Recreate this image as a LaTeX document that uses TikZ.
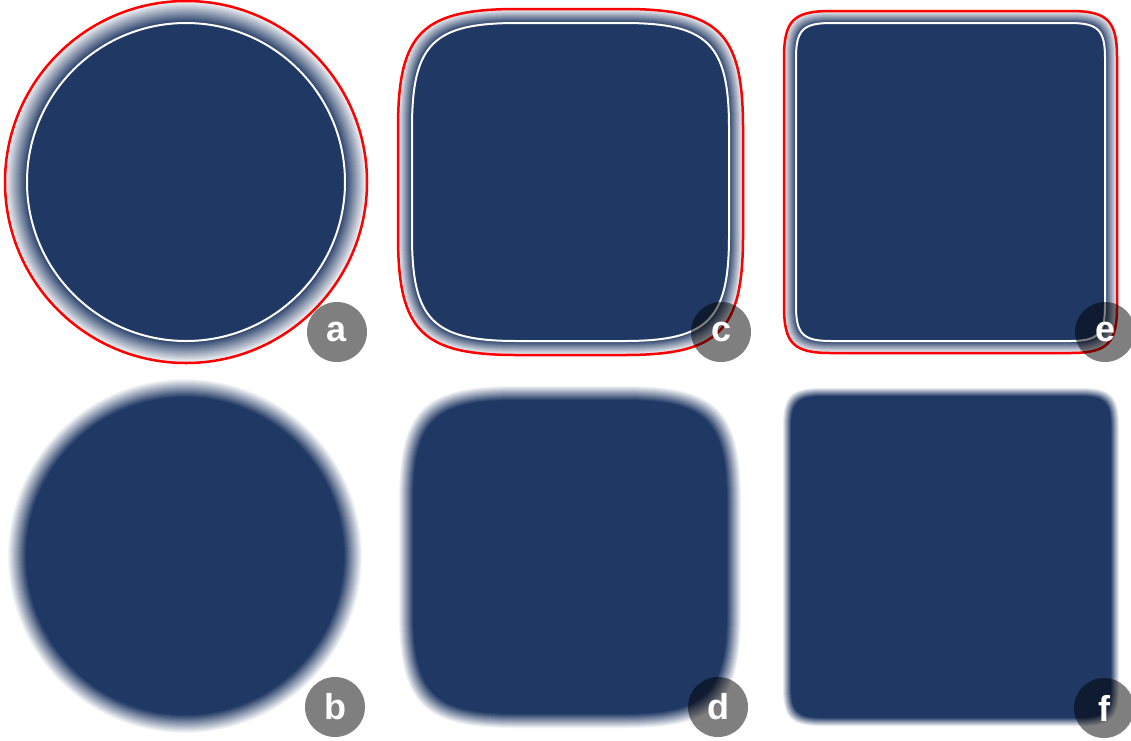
\documentclass[tikz,border=0pt]{standalone}
\usepackage{fontspec}
\newfontfamily\tagfont{Liberation Sans}
\definecolor{navy}{RGB}{32,56,100}
\newcommand{\sqpath}[5]{({(#1)-(#3)},{#2}) -- ({(#1)-(#3)},{(#2)-(#4)+(#5)}) .. controls ({(#1)-(#3)},{(#2)-(#4)+0.2*(#5)}) and ({(#1)-(#3)+0.2*(#5)},{(#2)-(#4)}) .. ({(#1)-(#3)+(#5)},{(#2)-(#4)})
  -- ({(#1)+(#3)-(#5)},{(#2)-(#4)}) .. controls ({(#1)+(#3)-0.2*(#5)},{(#2)-(#4)}) and ({(#1)+(#3)},{(#2)-(#4)+0.2*(#5)}) .. ({(#1)+(#3)},{(#2)-(#4)+(#5)})
  -- ({(#1)+(#3)},{(#2)+(#4)-(#5)}) .. controls ({(#1)+(#3)},{(#2)+(#4)-0.2*(#5)}) and ({(#1)+(#3)-0.2*(#5)},{(#2)+(#4)}) .. ({(#1)+(#3)-(#5)},{(#2)+(#4)})
  -- ({(#1)-(#3)+(#5)},{(#2)+(#4)}) .. controls ({(#1)-(#3)+0.2*(#5)},{(#2)+(#4)}) and ({(#1)-(#3)},{(#2)+(#4)-0.2*(#5)}) .. ({(#1)-(#3)},{(#2)+(#4)-(#5)}) -- cycle}
\newcommand{\blursq}[8]{%
  \foreach \j in {1,...,#8}{%
    \pgfmathsetmacro{\dd}{(#6)+((#7)-(#6))*(\j-1)/(#8-1)}%
    \pgfmathsetmacro{\op}{1/(#8-\j+1)}%
    \fill[navy, fill opacity=\op] \sqpath{#1}{#2}{#3+\dd}{#4+\dd}{#5+\dd};
  }}
\newcommand{\blurcirc}[6]{%
  \foreach \j in {1,...,#6}{%
    \pgfmathsetmacro{\rr}{(#3)+(#4)+((#5)-(#4))*(\j-1)/(#6-1)}%
    \pgfmathsetmacro{\op}{1/(#6-\j+1)}%
    \fill[navy, fill opacity=\op] (#1,#2) circle[radius=\rr pt];
  }}
\tikzset{
  tag/.style={circle, fill=black, fill opacity=0.5, text opacity=1, text=white, minimum size=60pt, inner sep=0pt, font=\tagfont\fontsize{36}{36}\selectfont\bfseries},
  rim/.style={white, line width=2pt},
  edge/.style={red, line width=2.5pt}
}
\begin{document}
\begin{tikzpicture}[x=1pt,y=-1pt]
    \useasboundingbox (0,0) rectangle (1131,740);
    \blurcirc{186}{182}{159}{22}{0}{23}
    \draw[rim] (186,182) circle[radius=159pt];
    \draw[edge] (186,182) circle[radius=181pt];
    \blursq{570.5}{182}{158.5}{159}{105}{14}{0}{15}
    \draw[rim] \sqpath{570.5}{182}{158.5}{159}{105};
    \draw[edge] \sqpath{570.5}{182}{172.5}{173}{119};
    \blursq{950.5}{182}{154.5}{159}{35}{12}{0}{13}
    \draw[rim] \sqpath{950.5}{182}{154.5}{159}{35};
    \draw[edge] \sqpath{950.5}{182}{166.5}{171}{47};
    \blurcirc{185}{556}{168}{9}{-9}{19}
    \blursq{570}{557}{164}{164}{110}{7}{-7}{15}
    \blursq{951}{557}{164}{165}{35}{4}{-4}{9}
    \node[tag] (a) at (337,332) {a};
    \node[tag] (c) at (721,332) {c};
    \node[tag] (e) at (1105,332) {e};
    \node[tag] (b) at (335,707) {b};
    \node[tag] (d) at (718,707) {d};
    \node[tag] (f) at (1104,708) {f};
\end{tikzpicture}
\end{document}
